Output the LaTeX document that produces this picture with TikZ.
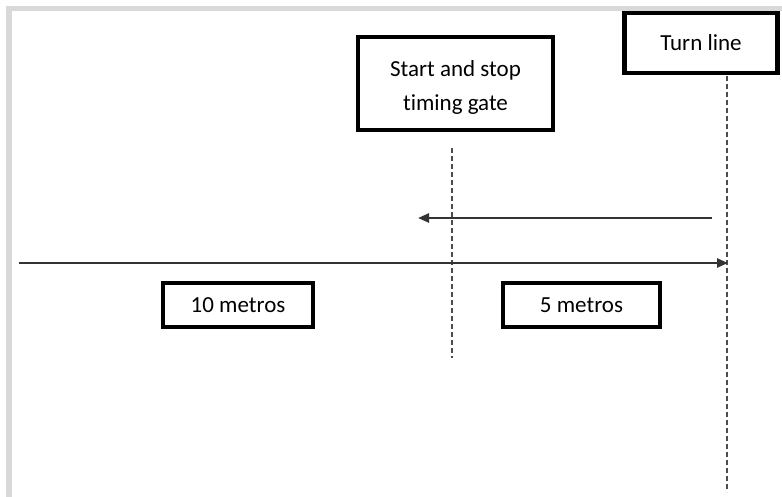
\documentclass[tikz,border=0pt]{standalone}
\usepackage{fontspec}
\setmainfont[Ligatures=NoCommon]{Carlito}
\usetikzlibrary{arrows.meta}
\begin{document}
\begin{tikzpicture}[x=1pt,y=-1pt,
  labelbox/.style={draw=black, line width=4.5pt, fill=white, inner sep=0pt, font=\fontsize{23}{34}\selectfont, align=center},
  boxtext/.style={inner sep=0pt, font=\fontsize{23}{34}\selectfont, align=center},
  guide/.style={draw=black!70, line width=1.8pt, dash pattern=on 5pt off 3pt},
  runarrow/.style={draw=black!80, line width=2.4pt, -{Triangle[length=11pt,width=9pt]}}
]
\useasboundingbox (0,0) rectangle (782,497);
\fill[white] (0,0) rectangle (782,497);
% gray frame
\fill[black!15] (6,6) rectangle (782,11.5);
\fill[black!15] (6,6) rectangle (12,497);

% boxes
\node[labelbox, minimum width=195pt, minimum height=93pt] (gate) at (455.5,83.5) {};
\node[boxtext] (gatetext) at (455.5,87) {Start and stop\\timing gate};
\node[labelbox, minimum width=153pt, minimum height=60pt] (turn) at (701,43) {Turn line};
\node[labelbox, minimum width=150pt, minimum height=44pt] (ten) at (238,305) {10 metros};
\node[labelbox, minimum width=157pt, minimum height=44pt] (five) at (581.5,305) {5 metros};

% guide lines
\coordinate (gtop) at (452,148);
\coordinate (gbot) at (452,358);
\coordinate (ttop) at (727,76);
\coordinate (tbot) at (727,492);
\draw[guide] (gtop) -- (gbot);
\draw[guide] (ttop) -- (tbot);

% arrows
\coordinate (a1s) at (712,218);
\coordinate (a1e) at (418,218);
\coordinate (a2s) at (19,263);
\coordinate (a2e) at (728,263);
\draw[runarrow] (a1s) -- (a1e);
\draw[runarrow] (a2s) -- (a2e);
\end{tikzpicture}
\end{document}
